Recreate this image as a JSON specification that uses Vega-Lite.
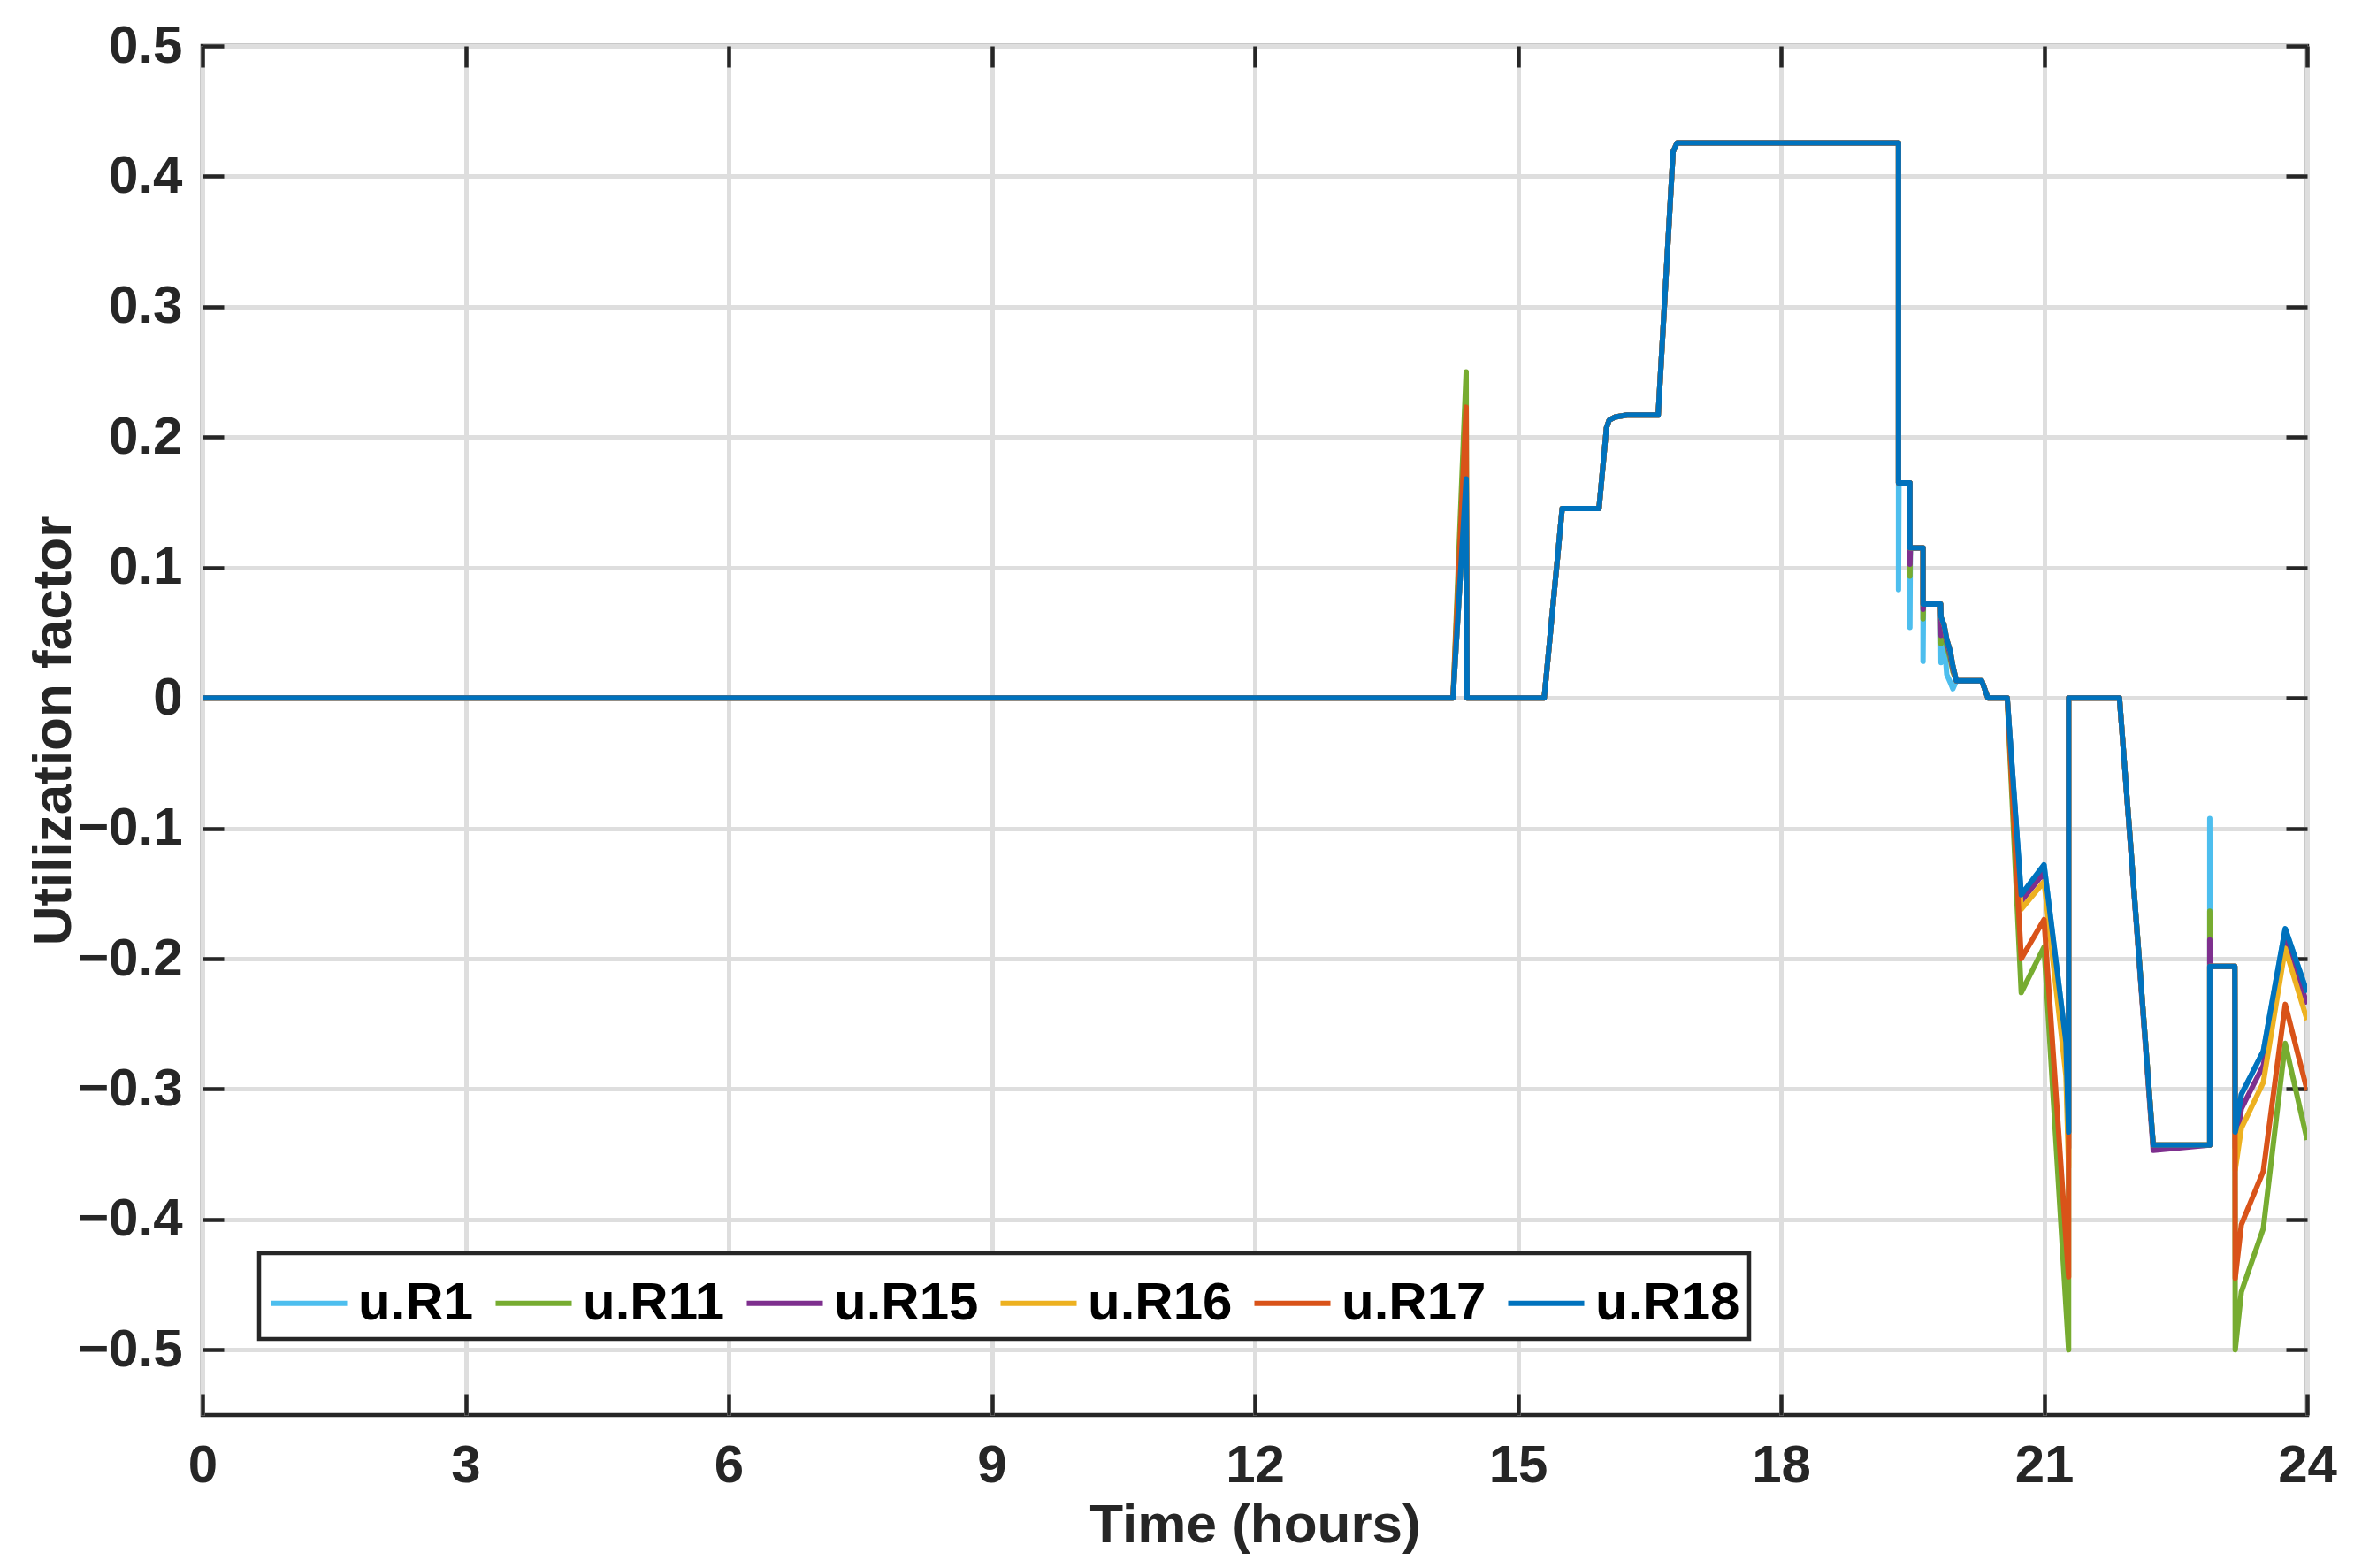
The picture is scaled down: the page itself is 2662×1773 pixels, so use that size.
{
  "$schema": "https://vega.github.io/schema/vega-lite/v6.json",
  "width": 2380,
  "height": 1548,
  "autosize": {"type": "none"},
  "padding": {"left": 229, "top": 52, "right": 53, "bottom": 173},
  "background": "white",
  "config": {
    "view": {"stroke": "#262626", "strokeWidth": 4.5},
    "font": "Liberation Sans",
    "axis": {
      "labelFont": "Liberation Sans",
      "labelFontSize": 60,
      "labelFontWeight": "bold",
      "labelColor": "#262626",
      "titleFont": "Liberation Sans",
      "titleFontSize": 62,
      "titleFontWeight": "bold",
      "titleColor": "#262626",
      "tickColor": "#262626",
      "tickWidth": 4.5,
      "tickSize": -24,
      "gridColor": "#DEDEDE",
      "gridWidth": 5,
      "gridOpacity": 1,
      "domain": false,
      "labelFlush": false,
      "labelOverlap": false
    },
    "legend": {
      "orient": "none",
      "legendX": 64,
      "legendY": 1365,
      "direction": "horizontal",
      "columns": 6,
      "symbolType": "stroke",
      "symbolSize": 7400,
      "symbolStrokeWidth": 6,
      "labelFont": "Liberation Sans",
      "labelFontSize": 60,
      "labelFontWeight": "bold",
      "labelColor": "#000000",
      "labelOffset": 9,
      "labelLimit": 0,
      "columnPadding": 12,
      "padding": 10,
      "strokeColor": "#262626",
      "strokeWidth": 4.5,
      "fillColor": "white"
    }
  },
  "data": {
    "values": [
      {"i": 1, "t": 0, "R1": 0, "R11": 0, "R15": 0, "R16": 0, "R17": 0, "R18": 0},
      {"i": 2, "t": 14.26, "R1": 0, "R11": 0, "R15": 0, "R16": 0, "R17": 0, "R18": 0},
      {"i": 3, "t": 14.41, "R1": 0.168, "R11": 0.25, "R15": 0.168, "R16": 0.168, "R17": 0.223, "R18": 0.168},
      {"i": 4, "t": 14.42, "R1": 0, "R11": 0, "R15": 0, "R16": 0, "R17": 0, "R18": 0},
      {"i": 5, "t": 15.3, "R1": 0, "R11": 0, "R15": 0, "R16": 0, "R17": 0, "R18": 0},
      {"i": 6, "t": 15.505, "R1": 0.1452, "R11": 0.1452, "R15": 0.1452, "R16": 0.1452, "R17": 0.1452, "R18": 0.1452},
      {"i": 7, "t": 15.925, "R1": 0.1452, "R11": 0.1452, "R15": 0.1452, "R16": 0.1452, "R17": 0.1452, "R18": 0.1452},
      {"i": 8, "t": 16.01, "R1": 0.2072, "R11": 0.2072, "R15": 0.2072, "R16": 0.2072, "R17": 0.2072, "R18": 0.2072},
      {"i": 9, "t": 16.04, "R1": 0.213, "R11": 0.213, "R15": 0.213, "R16": 0.213, "R17": 0.213, "R18": 0.213},
      {"i": 10, "t": 16.11, "R1": 0.2155, "R11": 0.2155, "R15": 0.2155, "R16": 0.2155, "R17": 0.2155, "R18": 0.2155},
      {"i": 11, "t": 16.245, "R1": 0.217, "R11": 0.217, "R15": 0.217, "R16": 0.217, "R17": 0.217, "R18": 0.217},
      {"i": 12, "t": 16.6, "R1": 0.217, "R11": 0.217, "R15": 0.217, "R16": 0.217, "R17": 0.217, "R18": 0.217},
      {"i": 13, "t": 16.77, "R1": 0.419, "R11": 0.419, "R15": 0.419, "R16": 0.419, "R17": 0.419, "R18": 0.419},
      {"i": 14, "t": 16.815, "R1": 0.4257, "R11": 0.4257, "R15": 0.4257, "R16": 0.4257, "R17": 0.4257, "R18": 0.4257},
      {"i": 15, "t": 19.34, "R1": 0.4257, "R11": 0.4257, "R15": 0.4257, "R16": 0.4257, "R17": 0.4257, "R18": 0.4257},
      {"i": 16, "t": 19.34, "R1": 0.083, "R11": 0.165, "R15": 0.165, "R16": 0.165, "R17": 0.165, "R18": 0.165},
      {"i": 17, "t": 19.345, "R1": 0.165, "R11": 0.165, "R15": 0.165, "R16": 0.165, "R17": 0.165, "R18": 0.165},
      {"i": 18, "t": 19.47, "R1": 0.165, "R11": 0.165, "R15": 0.165, "R16": 0.165, "R17": 0.165, "R18": 0.165},
      {"i": 19, "t": 19.47, "R1": 0.054, "R11": 0.0934, "R15": 0.1025, "R16": 0.115, "R17": 0.115, "R18": 0.115},
      {"i": 20, "t": 19.475, "R1": 0.115, "R11": 0.115, "R15": 0.115, "R16": 0.115, "R17": 0.115, "R18": 0.115},
      {"i": 21, "t": 19.62, "R1": 0.115, "R11": 0.115, "R15": 0.115, "R16": 0.115, "R17": 0.115, "R18": 0.115},
      {"i": 22, "t": 19.62, "R1": 0.028, "R11": 0.0607, "R15": 0.068, "R16": 0.072, "R17": 0.072, "R18": 0.072},
      {"i": 23, "t": 19.625, "R1": 0.072, "R11": 0.072, "R15": 0.072, "R16": 0.072, "R17": 0.072, "R18": 0.072},
      {"i": 24, "t": 19.82, "R1": 0.072, "R11": 0.072, "R15": 0.072, "R16": 0.072, "R17": 0.072, "R18": 0.072},
      {"i": 25, "t": 19.825, "R1": 0.027, "R11": 0.0415, "R15": 0.048, "R16": 0.062, "R17": 0.062, "R18": 0.062},
      {"i": 26, "t": 19.86, "R1": 0.045, "R11": 0.05, "R15": 0.053, "R16": 0.056, "R17": 0.056, "R18": 0.056},
      {"i": 27, "t": 19.89, "R1": 0.018, "R11": 0.04, "R15": 0.043, "R16": 0.045, "R17": 0.045, "R18": 0.045},
      {"i": 28, "t": 19.93, "R1": 0.012, "R11": 0.03, "R15": 0.033, "R16": 0.036, "R17": 0.036, "R18": 0.036},
      {"i": 29, "t": 19.96, "R1": 0.007, "R11": 0.02, "R15": 0.022, "R16": 0.0245, "R17": 0.0245, "R18": 0.0245},
      {"i": 30, "t": 20.0, "R1": 0.0132, "R11": 0.0132, "R15": 0.0132, "R16": 0.0132, "R17": 0.0132, "R18": 0.0132},
      {"i": 31, "t": 20.29, "R1": 0.0132, "R11": 0.0132, "R15": 0.0132, "R16": 0.0132, "R17": 0.0132, "R18": 0.0132},
      {"i": 32, "t": 20.36, "R1": 0, "R11": 0, "R15": 0, "R16": 0, "R17": 0, "R18": 0},
      {"i": 33, "t": 20.58, "R1": 0, "R11": 0, "R15": 0, "R16": 0, "R17": 0, "R18": 0},
      {"i": 34, "t": 20.74, "R1": -0.151, "R11": -0.226, "R15": -0.156, "R16": -0.162, "R17": -0.2, "R18": -0.151},
      {"i": 35, "t": 21.0, "R1": -0.128, "R11": -0.191, "R15": -0.134, "R16": -0.141, "R17": -0.17, "R18": -0.128},
      {"i": 36, "t": 21.25, "R1": -0.264, "R11": -0.467, "R15": -0.275, "R16": -0.29, "R17": -0.415, "R18": -0.264},
      {"i": 37, "t": 21.28, "R1": -0.333, "R11": -0.5, "R15": -0.345, "R16": -0.36, "R17": -0.444, "R18": -0.333},
      {"i": 38, "t": 21.28, "R1": 0, "R11": 0, "R15": 0, "R16": 0, "R17": 0, "R18": 0},
      {"i": 39, "t": 21.86, "R1": 0, "R11": 0, "R15": 0, "R16": 0, "R17": 0, "R18": 0},
      {"i": 40, "t": 22.245, "R1": -0.343, "R11": -0.343, "R15": -0.347, "R16": -0.343, "R17": -0.343, "R18": -0.343},
      {"i": 41, "t": 22.89, "R1": -0.343, "R11": -0.343, "R15": -0.343, "R16": -0.343, "R17": -0.343, "R18": -0.343},
      {"i": 42, "t": 22.89, "R1": -0.0925, "R11": -0.1635, "R15": -0.1856, "R16": -0.206, "R17": -0.206, "R18": -0.206},
      {"i": 43, "t": 22.895, "R1": -0.206, "R11": -0.206, "R15": -0.206, "R16": -0.206, "R17": -0.206, "R18": -0.206},
      {"i": 44, "t": 23.175, "R1": -0.206, "R11": -0.206, "R15": -0.206, "R16": -0.206, "R17": -0.206, "R18": -0.206},
      {"i": 45, "t": 23.18, "R1": -0.333, "R11": -0.5, "R15": -0.345, "R16": -0.362, "R17": -0.445, "R18": -0.333},
      {"i": 46, "t": 23.25, "R1": -0.304, "R11": -0.4555, "R15": -0.315, "R16": -0.33, "R17": -0.404, "R18": -0.304},
      {"i": 47, "t": 23.5, "R1": -0.271, "R11": -0.407, "R15": -0.282, "R16": -0.295, "R17": -0.363, "R18": -0.271},
      {"i": 48, "t": 23.75, "R1": -0.177, "R11": -0.265, "R15": -0.184, "R16": -0.192, "R17": -0.235, "R18": -0.177},
      {"i": 49, "t": 24.0, "R1": -0.226, "R11": -0.339, "R15": -0.235, "R16": -0.247, "R17": -0.301, "R18": -0.226}
    ]
  },
  "transform": [
    {"fold": ["R1", "R11", "R15", "R16", "R17", "R18"], "as": ["series", "u"]}
  ],
  "layer": [
    {
      "mark": {"type": "line", "strokeWidth": 6, "strokeJoin": "round", "clip": true},
      "encoding": {
        "x": {
          "field": "t", "type": "quantitative",
          "scale": {"domain": [0, 24], "nice": false, "zero": false},
          "axis": {
            "orient": "bottom",
            "values": [0, 3, 6, 9, 12, 15, 18, 21, 24],
            "format": "d",
            "title": "Time (hours)",
            "labelPadding": 52,
            "titlePadding": 7,
            "grid": true
          }
        },
        "y": {
          "field": "u", "type": "quantitative",
          "scale": {"domain": [-0.55, 0.5], "nice": false, "zero": false},
          "axis": {
            "orient": "left",
            "values": [-0.5, -0.4, -0.3, -0.2, -0.1, 0, 0.1, 0.2, 0.3, 0.4, 0.5],
            "format": ".1~f",
            "title": "Utilization factor",
            "labelPadding": 47,
            "titlePadding": -5,
            "grid": true
          }
        },
        "color": {
          "field": "series", "type": "nominal",
          "scale": {
            "domain": ["R1", "R11", "R15", "R16", "R17", "R18"],
            "range": ["#4DBEEE", "#77AC30", "#7E2F8E", "#EDB120", "#D95319", "#0072BD"]
          },
          "legend": {"title": null, "labelExpr": "'u.' + datum.label"}
        },
        "order": {"field": "i", "type": "quantitative"}
      }
    },
    {
      "mark": {"type": "point", "opacity": 0},
      "encoding": {
        "x": {
          "field": "t", "type": "quantitative",
          "axis": {
            "orient": "top",
            "values": [0, 3, 6, 9, 12, 15, 18, 21, 24],
            "labels": false,
            "title": null,
            "grid": false
          }
        },
        "y": {
          "field": "u", "type": "quantitative",
          "axis": {
            "orient": "right",
            "values": [-0.5, -0.4, -0.3, -0.2, -0.1, 0, 0.1, 0.2, 0.3, 0.4, 0.5],
            "labels": false,
            "title": null,
            "grid": false
          }
        }
      }
    }
  ],
  "resolve": {"axis": {"x": "independent", "y": "independent"}}
}
